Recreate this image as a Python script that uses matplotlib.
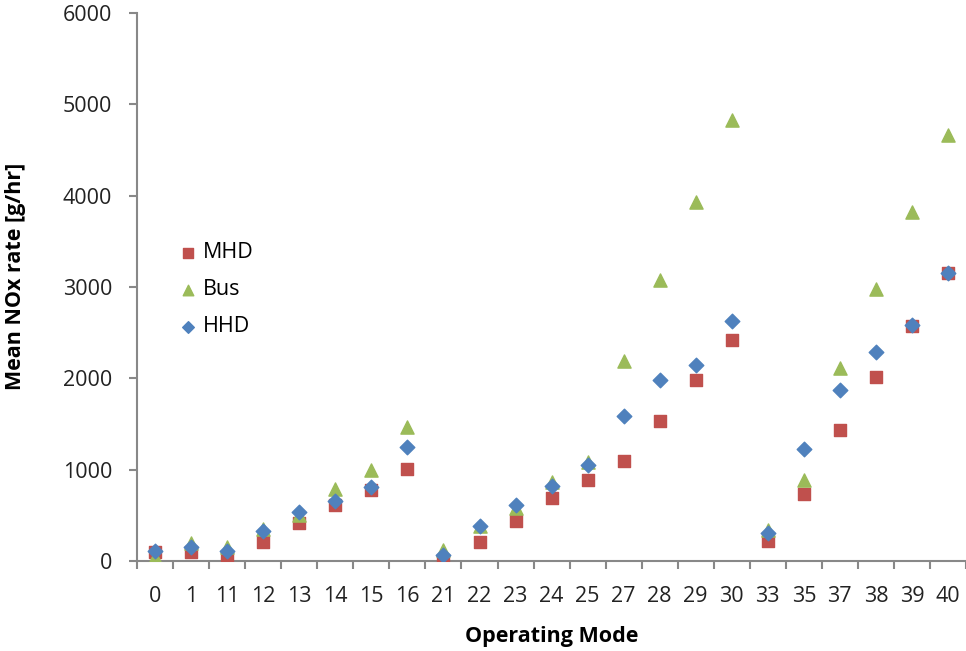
import matplotlib.pyplot as plt
import numpy as np

plt.rcParams['font.family'] = ['Open Sans', 'DejaVu Sans']

modes = ['0', '1', '11', '12', '13', '14', '15', '16', '21', '22', '23', '24',
         '25', '27', '28', '29', '30', '33', '35', '37', '38', '39', '40']
mhd = [100, 95, 47, 215, 420, 620, 777, 1011, 18, 212, 442, 693,
       887, 1098, 1535, 1982, 2420, 219, 734, 1434, 2011, 2573, 3150]
bus = [45, 200, 150, 350, 500, 785, 996, 1471, 120, 380, 584, 868,
       1087, 2190, 3077, 3934, 4829, 340, 887, 2117, 2975, 3818, 4665]
hhd = [110, 157, 113, 325, 533, 660, 813, 1252, 70, 383, 620, 821,
       1051, 1591, 1982, 2152, 2628, 303, 1223, 1872, 2292, 2584, 3150]

fig = plt.figure(figsize=(9.66, 6.51), dpi=100)
ax = fig.add_axes([0.142, 0.138, 0.858, 0.842])

x = np.arange(len(modes))
ax.scatter(x, mhd, marker='s', s=75, color='#C0504D', label='MHD', zorder=3)
ax.scatter(x, bus, marker='^', s=90, color='#9BBB59', label='Bus', zorder=4)
ax.scatter(x, hhd, marker='D', s=55, color='#4F81BD', label='HHD', zorder=5)

ax.set_xlim(-0.5, len(modes) - 0.5)
ax.set_ylim(0, 6000)
ax.set_yticks(range(0, 6001, 1000))
ax.set_xticks(x)
ax.set_xticklabels(modes)
ax.set_xticks(np.arange(-0.5, len(modes), 1), minor=True)
ax.tick_params(axis='x', which='major', length=0, labelsize=15.5, colors='#222222', pad=18)
ax.tick_params(axis='x', which='minor', length=6, width=1.5, color='#888888')
ax.tick_params(axis='y', length=6, width=1.5, color='#888888', labelsize=15.5,
               labelcolor='#222222', pad=12)

for s in ['top', 'right']:
    ax.spines[s].set_visible(False)
for s in ['left', 'bottom']:
    ax.spines[s].set_color('#888888')
    ax.spines[s].set_linewidth(1.5)

ax.set_xlabel('Operating Mode', fontsize=15.5, fontweight='bold')
ax.xaxis.set_label_coords(0.5, -0.137)
ax.xaxis.label.set_va('center')
ax.set_ylabel('Mean NOx rate [g/hr]', fontsize=15.5, fontweight='bold')
ax.yaxis.set_label_coords(-0.147, 0.52)
ax.yaxis.label.set_va('center')

ax.legend(loc='center left', bbox_to_anchor=(0.048, 0.495), frameon=False,
          fontsize=15.5, handlelength=1.0, handletextpad=0.2, labelspacing=0.75,
          borderaxespad=0, borderpad=0, markerscale=0.8)

fig.savefig('out.png', dpi=100)
